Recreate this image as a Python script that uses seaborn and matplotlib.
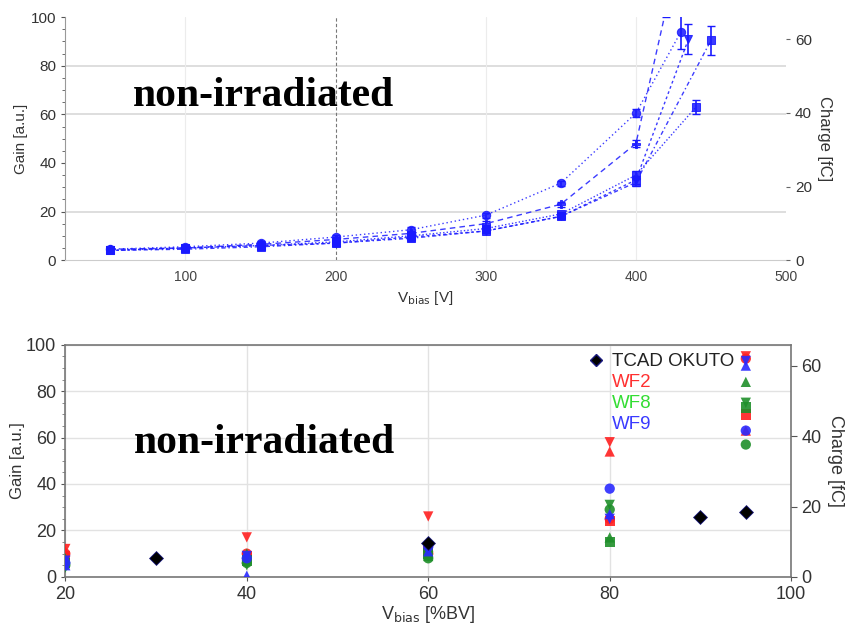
import pandas as pd
import seaborn as sns
import matplotlib.pyplot as plt
import numpy as np
from matplotlib.lines import Line2D
from matplotlib.ticker import MultipleLocator

# ---- top panel: gain vs bias voltage (5 sensors, all blue)
sensors = ['S1', 'S2', 'S3', 'S4', 'S5']
v_s1 = [50, 100, 150, 200, 250, 300, 350, 400, 430]
g_s1 = [4.5, 5.5, 7.0, 9.5, 12.5, 18.5, 31.7, 60.5, 94.0]
e_s1 = [0.8, 0.8, 0.8, 1.0, 1.0, 1.0, 1.0, 1.5, 7.0]
v_s2 = [50, 100, 150, 200, 250, 300, 350, 400, 420]
g_s2 = [4.5, 5.0, 6.5, 8.5, 11.0, 15.0, 23.0, 48.0, 103.0]
e_s2 = [0.8, 0.8, 0.8, 1.0, 1.0, 1.0, 1.0, 1.5, 3.0]
v_s3 = [50, 100, 150, 200, 250, 300, 350, 400, 440]
g_s3 = [4.0, 5.0, 6.0, 7.5, 10.0, 13.0, 19.0, 35.0, 63.0]
e_s3 = [0.8, 0.8, 0.8, 1.0, 1.0, 1.0, 1.0, 1.5, 3.0]
v_s4 = [50, 100, 150, 200, 250, 300, 350, 400, 435]
g_s4 = [4.0, 5.0, 6.0, 7.0, 9.5, 12.0, 18.0, 33.0, 91.0]
e_s4 = [0.8, 0.8, 0.8, 1.0, 1.0, 1.0, 1.0, 1.5, 6.0]
v_s5 = [50, 100, 150, 200, 250, 300, 350, 400, 450]
g_s5 = [4.0, 4.5, 5.5, 7.0, 9.0, 12.0, 18.0, 32.0, 90.5]
e_s5 = [0.8, 0.8, 0.8, 1.0, 1.0, 1.0, 1.0, 1.5, 6.0]

# ---- bottom panel: gain vs %BV
pct = [20, 40, 60, 80, 95]
tcad_x = [30, 60, 90, 95]
tcad_g = [8.2, 14.6, 25.9, 28.0]
wf2 = {'v': [12, 17, 26, 58, 95], '^': [11, 8, 13, 54, 63],
       's': [9, 9, 11, 24, 70], 'o': [10, 10, 10, 25, 94]}
wf8 = {'^': [8, 10, 9, 17, 84], 's': [6, 7, 10, 15, 73],
       'o': [5, 6, 8, 29, 57], 'v': [4, 5, 9, 31, 75]}
wf9 = {'o': [6, 8, 13, 38, 63], '^': [5, 0.5, 11, 27, 91],
       'v': [7, 9, 12, 25, 93]}

gain_to_charge = 0.66
blue = '#1a1aff'
wafer_colors = {'WF2': '#ff2020', 'WF8': '#1f8f2a', 'WF9': '#2a2aff'}
legend_colors = {'WF2': '#ff3030', 'WF8': '#33dd33', 'WF9': '#3a3aff'}

sns.set_style('white')
plt.rcParams['font.family'] = ['Liberation Sans', 'DejaVu Sans']

fig = plt.figure(figsize=(8.48, 6.36), dpi=100)
ax1 = fig.add_axes([0.077, 0.591, 0.850, 0.382])
ax2 = fig.add_axes([0.077, 0.093, 0.856, 0.365])

# top panel
rows = []
for name, vs, gs in zip(sensors, [v_s1, v_s2, v_s3, v_s4, v_s5],
                        [g_s1, g_s2, g_s3, g_s4, g_s5]):
    for v, g in zip(vs, gs):
        rows.append({'V': v, 'gain': g, 'sensor': name})
df_top = pd.DataFrame(rows)

sns.lineplot(data=df_top, x='V', y='gain', style='sensor', hue='sensor',
             palette=[blue] * 5, markers=['o', 'P', 's', 'v', 's'],
             dashes=[(1, 2), (4, 3), (1, 1.5), (2, 2), (3, 2, 1, 2)],
             markersize=6, markeredgecolor=blue, linewidth=1.0, alpha=0.85,
             legend=False, ax=ax1)
for vs, gs, es in zip([v_s1, v_s2, v_s3, v_s4, v_s5],
                      [g_s1, g_s2, g_s3, g_s4, g_s5],
                      [e_s1, e_s2, e_s3, e_s4, e_s5]):
    ax1.errorbar(vs, gs, yerr=es, fmt='none', ecolor=blue, elinewidth=1.2,
                 capsize=3)

ax1.set_xlim(20, 500)
ax1.set_ylim(0, 100)
ax1.set_xticks([100, 200, 300, 400, 500])
ax1.set_yticks([0, 20, 40, 60, 80, 100])
ax1.yaxis.set_minor_locator(MultipleLocator(5))
for y in [20, 60, 80]:
    ax1.axhline(y, color='#d8d8d8', lw=1.2, zorder=0)
for x in [100, 300, 400]:
    ax1.axvline(x, color='#ececec', lw=0.8, zorder=0)
ax1.axvline(200, color='#777777', lw=0.8, ls=(0, (3, 2)), zorder=0)
for s in ['top', 'right']:
    ax1.spines[s].set_visible(False)
ax1.spines['left'].set_color('#999999')
ax1.spines['bottom'].set_color('#cccccc')
ax1.tick_params(axis='y', which='major', left=True, length=3, color='#555555',
                labelsize=11, labelcolor='#333333')
ax1.tick_params(axis='y', which='minor', left=True, length=2, color='#555555')
ax1.tick_params(axis='x', bottom=False, labelsize=10, labelcolor='#444444')
ax1.set_xlabel(r'V$_{\mathrm{bias}}$ [V]', fontsize=11, color='#333333')
ax1.set_ylabel('Gain [a.u.]', fontsize=11, color='#333333', labelpad=2)
ax1.text(0.094, 0.635, 'non-irradiated', transform=ax1.transAxes,
         family='Liberation Serif', fontweight='bold', fontsize=30,
         color='black', va='baseline')

ax1r = ax1.twinx()
ax1r.set_ylim(0, 100 * gain_to_charge)
ax1r.set_yticks([0, 20, 40, 60])
for s in ax1r.spines.values():
    s.set_visible(False)
ax1r.tick_params(axis='y', right=True, length=3, color='#666666',
                 labelsize=11, labelcolor='#333333')
ax1r.set_ylabel('Charge [fC]', rotation=-90, labelpad=14, fontsize=12,
                color='#333333')

# bottom panel
rows = []
for wafer, series in [('WF2', wf2), ('WF8', wf8), ('WF9', wf9)]:
    for mk, gs in series.items():
        for x, g in zip(pct, gs):
            rows.append({'pct': x, 'gain': g, 'wafer': wafer, 'shape': mk})
df_bot = pd.DataFrame(rows)

sns.scatterplot(data=df_bot, x='pct', y='gain', hue='wafer', style='shape',
                palette=wafer_colors, markers={m: m for m in ['o', 's', '^', 'v']},
                s=55, edgecolor='none', alpha=0.9, legend=False, ax=ax2,
                zorder=3)
sns.scatterplot(x=tcad_x, y=tcad_g, marker='D', color='black',
                edgecolor='#1a1a80', s=50, ax=ax2, zorder=4)

ax2.set_xlim(20, 100)
ax2.set_ylim(0, 100)
ax2.set_xticks([20, 40, 60, 80, 100])
ax2.set_yticks([0, 20, 40, 60, 80, 100])
ax2.yaxis.set_minor_locator(MultipleLocator(5))
ax2.grid(True, color='#e2e2e2', lw=1.0)
ax2.set_axisbelow(True)
for s in ax2.spines.values():
    s.set_color('#777777')
    s.set_linewidth(1.2)
ax2.tick_params(axis='both', which='major', length=3, color='#555555',
                labelsize=13, labelcolor='#333333', left=True, bottom=True)
ax2.tick_params(axis='y', which='minor', left=True, length=2, color='#777777')
ax2.set_xlabel(r'V$_{\mathrm{bias}}$ [%BV]', fontsize=13, color='#333333',
               labelpad=1)
ax2.set_ylabel('Gain [a.u.]', fontsize=12, color='#333333', labelpad=1)
ax2.text(0.094, 0.535, 'non-irradiated', transform=ax2.transAxes,
         family='Liberation Serif', fontweight='bold', fontsize=30,
         color='black', va='baseline')

handles = [Line2D([], [], marker='D', color='black', markeredgecolor='#1a1a80',
                  ls='none', markersize=6)]
labels = ['TCAD OKUTO']
for w in ['WF2', 'WF8', 'WF9']:
    handles.append(Line2D([], [], ls='none'))
    labels.append(w)
leg = ax2.legend(handles, labels, loc='upper left', bbox_to_anchor=(0.71, 0.995),
                 frameon=False, fontsize=13.5, handlelength=0.8,
                 handletextpad=0.45, labelspacing=0.2, borderaxespad=0)
for txt, c in zip(leg.get_texts(), ['#222222', legend_colors['WF2'],
                                     legend_colors['WF8'], legend_colors['WF9']]):
    txt.set_color(c)

ax2r = ax2.twinx()
ax2r.set_ylim(0, 100 * gain_to_charge)
ax2r.set_yticks([0, 20, 40, 60])
for s in ax2r.spines.values():
    s.set_visible(False)
ax2r.tick_params(axis='y', right=True, length=4, color='#555555',
                 labelsize=13, labelcolor='#333333')
ax2r.set_ylabel('Charge [fC]', rotation=-90, labelpad=16, fontsize=13,
                color='#333333')

fig.savefig('out.png', dpi=100)
